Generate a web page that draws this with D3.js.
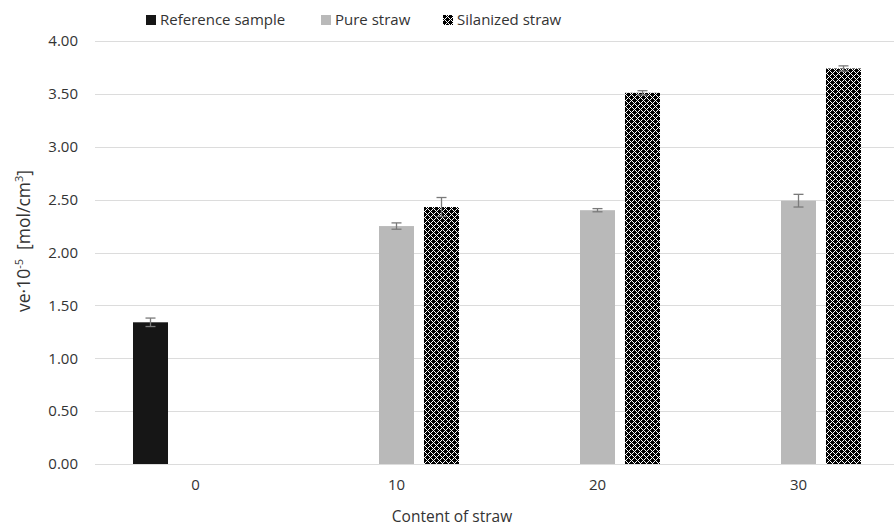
<!DOCTYPE html>
<html>
<head>
<meta charset="utf-8">
<script src="https://cdn.jsdelivr.net/npm/d3@7/dist/d3.min.js"></script>
<style>
  body { margin: 0; background: #fff; }
  text { font-family: "Open Sans", "Liberation Sans", sans-serif; fill: #333; }
</style>
</head>
<body>
<div id="chart"></div>
<script>
const categories = ['0', '10', '20', '30'];
const seriesNames = ['Reference sample', 'Pure straw', 'Silanized straw'];
// null = no bar in that category
const referenceValues = [1.34, null, null, null];
const pureValues = [null, 2.25, 2.40, 2.49];
const silanizedValues = [null, 2.43, 3.51, 3.74];
const referenceErrors = [0.04, null, null, null];
const pureErrors = [null, 0.03, 0.015, 0.06];
const silanizedErrors = [null, 0.09, 0.02, 0.025];
const yTicks = [0, 0.5, 1, 1.5, 2, 2.5, 3, 3.5, 4];

const width = 894, height = 527;
const margin = { top: 41, right: -5, bottom: 63, left: 95 };

const svg = d3.select('#chart').append('svg')
  .attr('width', width)
  .attr('height', height);

/* ----------checker pattern------------*/
const pat = svg.append('defs').append('pattern')
  .attr('id', 'checker')
  .attr('width', 6).attr('height', 6)
  .attr('patternUnits', 'userSpaceOnUse');
pat.append('rect').attr('width', 6).attr('height', 6).attr('fill', '#fff');
const px = [[0, 0, 3, 3], [3, 3, 3, 3], [1, 5, 1, 1], [1, 3, 1, 1], [5, 1, 1, 1], [3, 1, 1, 1],
  [4, 2, 1, 1], [4, 0, 1, 1], [2, 4, 1, 1], [0, 4, 1, 1]];
pat.selectAll('rect.p').data(px).join('rect')
  .attr('class', 'p')
  .attr('x', d => d[0]).attr('y', d => d[1])
  .attr('width', d => d[2]).attr('height', d => d[3])
  .attr('fill', '#000');

const fills = ['#161616', '#b9b9b9', 'url(#checker)'];

const x = d3.scaleBand()
  .domain(categories)
  .range([margin.left, width - margin.right]);

const xInner = d3.scaleBand()
  .domain(seriesNames)
  .range([0, 135])
  .paddingInner(0.222)
  .paddingOuter(0.111);

const y = d3.scaleLinear()
  .domain([0, 4])
  .range([height - margin.bottom, margin.top]);

/* ----------grid------------*/
svg.append('g')
  .selectAll('line')
  .data(yTicks)
  .join('line')
  .attr('x1', margin.left)
  .attr('x2', width)
  .attr('y1', d => Math.round(y(d)) + 0.5)
  .attr('y2', d => Math.round(y(d)) + 0.5)
  .attr('stroke', '#dcdcdc')
  .attr('stroke-width', 1);

/* ----------y tick labels------------*/
svg.append('g')
  .selectAll('text')
  .data(yTicks)
  .join('text')
  .attr('x', 78)
  .attr('y', d => y(d))
  .attr('dy', '0.35em')
  .attr('text-anchor', 'end')
  .style('font-size', '15px')
  .text(d => d3.format('.2f')(d));

/* ----------x tick labels------------*/
svg.append('g')
  .selectAll('text')
  .data(categories)
  .join('text')
  .attr('x', d => x(d) + x.bandwidth() / 2)
  .attr('y', 490)
  .attr('text-anchor', 'middle')
  .style('font-size', '15px')
  .text(d => d);

/* ----------bars------------*/
const series = [referenceValues, pureValues, silanizedValues];
const errors = [referenceErrors, pureErrors, silanizedErrors];
const bars = [];
series.forEach((vals, si) => {
  vals.forEach((v, ci) => {
    if (v !== null) {
      bars.push({ s: si, cat: categories[ci], value: v, err: errors[si][ci] });
    }
  });
});

const offset = (x.bandwidth() - 135) / 2;
const barX = d => x(d.cat) + offset + xInner(seriesNames[d.s]);

svg.append('g')
  .selectAll('rect')
  .data(bars)
  .join('rect')
  .attr('x', barX)
  .attr('y', d => y(d.value))
  .attr('width', xInner.bandwidth())
  .attr('height', d => y(0) - y(d.value))
  .attr('fill', d => fills[d.s]);

/* ----------error bars------------*/
const eg = svg.append('g')
  .attr('stroke', '#7a7a7a')
  .attr('stroke-width', 1.3);
bars.forEach(d => {
  const cx = barX(d) + xInner.bandwidth() / 2;
  const y1 = y(d.value + d.err), y2 = y(d.value - d.err);
  eg.append('line').attr('x1', cx).attr('x2', cx).attr('y1', y1).attr('y2', y2);
  eg.append('line').attr('x1', cx - 5).attr('x2', cx + 5).attr('y1', y1).attr('y2', y1);
  eg.append('line').attr('x1', cx - 5).attr('x2', cx + 5).attr('y1', y2).attr('y2', y2);
});

/* ----------axis titles------------*/
svg.append('text')
  .attr('x', 452)
  .attr('y', 522)
  .attr('text-anchor', 'middle')
  .style('font-size', '15.5px')
  .text('Content of straw');

const yt = svg.append('text')
  .attr('transform', 'translate(30,312) rotate(-90)')
  .attr('text-anchor', 'start')
  .style('font-size', '17.5px');
yt.append('tspan').text('ve·10');
yt.append('tspan').attr('dy', -7).style('font-size', '11px').text('-5');
yt.append('tspan').attr('dy', 7).text('\u00a0\u00a0[mol/cm');
yt.append('tspan').attr('dy', -7).style('font-size', '11px').text('3');
yt.append('tspan').attr('dy', 7).text(']');

/* ----------legend------------*/
const legendX = [146, 321, 443];
const legend = svg.append('g')
  .selectAll('g')
  .data(seriesNames)
  .join('g')
  .attr('transform', (d, i) => 'translate(' + legendX[i] + ',15)');
legend.append('rect')
  .attr('width', 10).attr('height', 10)
  .attr('fill', (d, i) => fills[i]);
legend.append('text')
  .attr('x', 14)
  .attr('y', 5)
  .attr('dy', '0.35em')
  .style('font-size', '15px')
  .text(d => d);
</script>
</body>
</html>
